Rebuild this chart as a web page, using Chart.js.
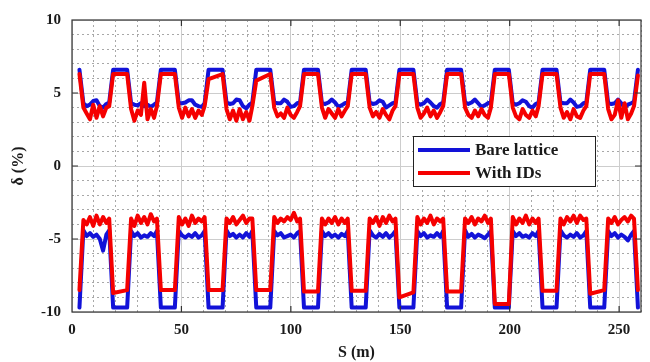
<!DOCTYPE html>
<html>
<head>
<meta charset="utf-8">
<script src="https://cdn.jsdelivr.net/npm/chart.js@4/dist/chart.umd.min.js"></script>
<style>
  html, body { margin: 0; padding: 0; background: #fff; }
  #wrap { width: 650px; height: 362px; }
</style>
</head>
<body>
<div id="wrap"><canvas id="myChart"></canvas></div>
<script>
// positions along the ring (m), shared by all four curves
const S = [3.4,
  5.2, 6.7, 8.2, 9.7, 11.2, 12.7, 14.2, 15.7, 17.0, 18.8, 25.2,
  27.0, 28.5, 30.0, 31.5, 33.0, 34.5, 36.0, 37.5, 38.8, 40.6, 47.0,
  48.8, 50.3, 51.8, 53.3, 54.8, 56.3, 57.8, 59.3, 60.6, 62.4, 68.8,
  70.6, 72.1, 73.6, 75.1, 76.6, 78.1, 79.6, 81.1, 82.4, 84.2, 90.6,
  92.4, 93.9, 95.4, 96.9, 98.4, 99.9, 101.4, 102.9, 104.2, 106.0, 112.4,
  114.2, 115.7, 117.2, 118.7, 120.2, 121.7, 123.2, 124.7, 126.0, 127.8, 134.2,
  136.0, 137.5, 139.0, 140.5, 142.0, 143.5, 145.0, 146.5, 147.8, 149.6, 156.0,
  157.8, 159.3, 160.8, 162.3, 163.8, 165.3, 166.8, 168.3, 169.6, 171.4, 177.8,
  179.6, 181.1, 182.6, 184.1, 185.6, 187.1, 188.6, 190.1, 191.4, 193.2, 199.6,
  201.4, 202.9, 204.4, 205.9, 207.4, 208.9, 210.4, 211.9, 213.2, 215.0, 221.4,
  223.2, 224.7, 226.2, 227.7, 229.2, 230.7, 232.2, 233.7, 235.0, 236.8, 243.2,
  245.0, 246.5, 248.0, 249.5, 251.0, 252.5, 254.0, 255.5, 256.8, 258.6];

// positive momentum acceptance (%)
const upperBare = [6.6,
  4.3, 4.1, 4.2, 4.45, 4.5, 4.1, 4.0, 4.25, 4.35, 6.6, 6.6,
  4.3, 4.2, 4.15, 4.3, 4.1, 4.2, 4.05, 4.2, 4.35, 6.6, 6.6,
  4.3, 4.3, 4.35, 4.5, 4.5, 4.2, 4.1, 4.05, 4.3, 6.6, 6.6,
  4.35, 4.25, 4.3, 4.55, 4.5, 4.1, 3.95, 4.2, 4.35, 6.6, 6.6,
  4.35, 4.3, 4.3, 4.55, 4.4, 4.05, 4.1, 4.3, 4.35, 6.6, 6.6,
  4.3, 4.25, 4.35, 4.55, 4.35, 4.05, 4.15, 4.3, 4.35, 6.6, 6.6,
  4.35, 4.25, 4.3, 4.5, 4.4, 4.0, 4.15, 4.3, 4.35, 6.6, 6.6,
  4.3, 4.2, 4.3, 4.55, 4.35, 4.1, 4.0, 4.25, 4.35, 6.6, 6.6,
  4.35, 4.25, 4.35, 4.55, 4.3, 4.05, 4.15, 4.3, 4.35, 6.6, 6.6,
  4.3, 4.2, 4.3, 4.5, 4.4, 4.1, 4.0, 4.25, 4.35, 6.6, 6.6,
  4.35, 4.3, 4.3, 4.55, 4.35, 4.05, 4.1, 4.3, 4.35, 6.6, 6.6,
  4.3, 4.25, 4.3, 4.55, 4.3, 4.0, 4.2, 4.3, 4.4, 6.6];

const upperIDs = [6.3,
  4.0, 3.6, 3.2, 4.2, 3.3, 4.1, 3.4, 4.0, 4.1, 6.3, 6.3,
  3.9, 3.1, 3.8, 3.5, 5.7, 3.2, 3.9, 3.3, 4.1, 6.3, 6.3,
  4.0, 3.3, 4.0, 3.4, 3.9, 3.3, 3.8, 3.5, 4.1, 5.95, 6.3,
  3.9, 3.2, 3.8, 3.1, 3.9, 3.2, 3.7, 3.1, 4.1, 5.85, 6.3,
  4.0, 3.4, 3.6, 3.3, 4.0, 3.5, 3.3, 3.7, 4.1, 6.3, 6.3,
  4.0, 3.3, 3.9, 3.6, 3.3, 3.9, 3.4, 3.8, 4.1, 6.3, 6.3,
  4.0, 3.4, 3.7, 3.3, 3.9, 3.5, 3.2, 3.8, 4.1, 6.3, 6.3,
  4.0, 3.3, 3.6, 4.0, 3.4, 3.8, 3.3, 3.7, 4.1, 6.3, 6.3,
  4.0, 3.5, 3.3, 3.8, 3.4, 3.9, 3.5, 3.3, 4.0, 6.3, 6.3,
  4.0, 3.4, 3.2, 3.9, 3.5, 3.3, 3.8, 3.4, 4.1, 6.3, 6.3,
  4.0, 3.3, 3.7, 3.2, 3.9, 3.4, 3.3, 3.8, 4.1, 6.3, 6.3,
  3.9, 3.2, 3.5, 4.5, 3.3, 4.3, 3.2, 3.6, 4.1, 6.2];

// negative momentum acceptance (%)
const lowerBare = [-9.7,
  -4.4, -4.8, -4.6, -4.85, -4.7, -5.0, -5.8, -4.7, -4.4, -9.7, -9.7,
  -4.45, -4.8, -4.6, -4.9, -4.75, -4.85, -4.6, -4.8, -4.45, -9.7, -9.7,
  -4.45, -4.75, -4.9, -4.7, -4.85, -4.6, -4.9, -4.75, -4.45, -9.7, -9.7,
  -4.4, -4.8, -4.65, -4.9, -4.7, -4.9, -4.6, -4.85, -4.45, -9.7, -9.7,
  -4.45, -4.75, -4.6, -4.9, -4.8, -4.7, -4.9, -4.6, -4.45, -9.7, -9.7,
  -4.45, -4.8, -4.6, -4.85, -4.7, -4.9, -4.65, -4.8, -4.45, -9.7, -9.7,
  -4.4, -4.75, -4.9, -4.65, -4.85, -4.6, -4.9, -4.7, -4.45, -9.7, -9.7,
  -4.45, -4.8, -4.6, -4.9, -4.75, -4.85, -4.6, -4.85, -4.45, -9.7, -9.7,
  -4.4, -4.85, -4.65, -4.9, -4.7, -4.8, -4.95, -4.7, -4.45, -9.7, -9.7,
  -4.45, -4.8, -4.6, -4.85, -4.75, -4.9, -4.6, -4.8, -4.45, -9.7, -9.7,
  -4.4, -4.75, -4.9, -4.7, -4.85, -4.6, -4.9, -4.75, -4.45, -9.7, -9.7,
  -4.45, -4.8, -4.6, -4.9, -4.7, -4.85, -5.1, -4.7, -4.45, -9.7];

const lowerIDs = [-8.5,
  -3.7, -4.0, -3.5, -4.1, -3.4, -4.0, -3.5, -3.9, -3.6, -8.7, -8.5,
  -3.6, -4.1, -3.4, -3.9, -3.5, -4.0, -3.3, -3.8, -3.6, -8.5, -8.5,
  -3.5, -4.0, -3.6, -4.1, -3.4, -3.9, -3.6, -3.8, -3.5, -8.5, -8.5,
  -3.6, -3.9, -3.5, -4.0, -3.7, -3.4, -3.9, -3.6, -3.6, -8.5, -8.5,
  -3.5, -3.9, -3.6, -3.8, -3.5, -3.7, -3.2, -3.8, -3.6, -8.6, -8.6,
  -3.6, -4.0, -3.6, -3.9, -3.5, -4.0, -3.6, -3.9, -3.6, -8.55, -8.55,
  -3.6, -3.9, -3.5, -4.1, -3.5, -3.9, -3.4, -3.8, -3.6, -9.0, -8.65,
  -3.5, -4.0, -3.6, -3.9, -3.4, -4.0, -3.6, -3.8, -3.6, -8.6, -8.6,
  -3.6, -3.9, -3.5, -4.0, -3.6, -3.8, -3.4, -3.9, -3.6, -9.45, -9.45,
  -3.5, -4.0, -3.6, -3.9, -3.4, -4.0, -3.6, -3.9, -3.6, -8.55, -8.55,
  -3.6, -4.0, -3.5, -3.8, -3.4, -3.9, -3.4, -3.7, -3.6, -8.75, -8.5,
  -3.6, -3.9, -3.5, -4.0, -3.7, -3.5, -3.8, -3.4, -3.6, -8.5];

const legendLabels = ["Bare lattice", "With IDs"];
const blue = "#1212d8";
const red = "#f50000";
const serif = "'Liberation Serif', 'DejaVu Serif', serif";

function pairUp(vals) {
  return S.map((s, i) => ({ x: s, y: vals[i] }));
}

// frame box with inward ticks at the labelled values
const framePlugin = {
  id: "frame",
  afterDatasetsDraw(chart) {
    const { ctx, chartArea: a, scales } = chart;
    ctx.save();
    ctx.strokeStyle = "#333";
    ctx.lineWidth = 1.2;
    ctx.strokeRect(a.left, a.top, a.right - a.left, a.bottom - a.top);
    ctx.beginPath();
    [50, 100, 150, 200, 250].forEach(v => {
      const px = scales.x.getPixelForValue(v);
      ctx.moveTo(px, a.bottom); ctx.lineTo(px, a.bottom - 6);
      ctx.moveTo(px, a.top); ctx.lineTo(px, a.top + 6);
    });
    [-5, 0, 5].forEach(v => {
      const py = scales.y.getPixelForValue(v);
      ctx.moveTo(a.left, py); ctx.lineTo(a.left + 6, py);
      ctx.moveTo(a.right, py); ctx.lineTo(a.right - 6, py);
    });
    ctx.stroke();
    ctx.restore();
  }
};

// boxed legend inside the plot
const boxLegend = {
  id: "boxLegend",
  afterDraw(chart) {
    const { ctx, chartArea: a } = chart;
    const x0 = a.left + 341, y0 = a.top + 116;
    ctx.save();
    ctx.fillStyle = "#fff";
    ctx.fillRect(x0, y0, 182, 50);
    ctx.strokeStyle = "#222";
    ctx.lineWidth = 1;
    ctx.strokeRect(x0 + 0.5, y0 + 0.5, 182, 50);
    ctx.font = "bold 17px " + serif;
    ctx.textBaseline = "middle";
    legendLabels.forEach((lab, i) => {
      const ds = chart.data.datasets.find(d => d.label === lab);
      const y = y0 + 14 + i * 23;
      ctx.strokeStyle = ds.borderColor;
      ctx.lineWidth = 4;
      ctx.beginPath();
      ctx.moveTo(x0 + 5, y); ctx.lineTo(x0 + 57, y);
      ctx.stroke();
      ctx.fillStyle = "#1a1a1a";
      ctx.fillText(lab, x0 + 62, y + 1);
    });
    ctx.restore();
  }
};

const ctx = document.getElementById("myChart").getContext("2d");
new Chart(ctx, {
  type: "line",
  data: {
    datasets: [
      { label: "With IDs", data: pairUp(upperIDs), borderColor: red },
      { label: "With IDs", data: pairUp(lowerIDs), borderColor: red },
      { label: "Bare lattice", data: pairUp(upperBare), borderColor: blue },
      { label: "Bare lattice", data: pairUp(lowerBare), borderColor: blue }
    ]
  },
  options: {
    responsive: true,
    maintainAspectRatio: false,
    animation: false,
    layout: { padding: { top: 17, right: 2, left: 0, bottom: 0 } },
    elements: {
      point: { radius: 0 },
      line: { borderWidth: 4, tension: 0, borderJoinStyle: "round", borderCapStyle: "round", fill: false }
    },
    plugins: { legend: { display: false }, tooltip: { enabled: false } },
    scales: {
      x: {
        type: "linear",
        min: 0,
        max: 260,
        afterFit: s => { s.height = 50; },
        ticks: {
          stepSize: 10,
          autoSkip: false,
          maxRotation: 0,
          padding: 9,
          color: "#1a1a1a",
          font: { family: serif, size: 15, weight: "bold" },
          callback: v => (v % 50 === 0 ? v : "")
        },
        grid: {
          drawTicks: false,
          lineWidth: 1,
          color: c => (c.tick && c.tick.value % 50 === 0 ? "#cdcdcd" : "#a8a8a8")
        },
        border: {
          display: false,
          dash: c => (c.tick && c.tick.value % 50 !== 0 ? [2, 3] : [])
        },
        title: {
          display: true,
          text: "S (m)",
          color: "#1a1a1a",
          font: { family: serif, size: 16, weight: "bold" },
          padding: { top: 0, bottom: 0 }
        }
      },
      y: {
        min: -10,
        max: 10,
        afterFit: s => { s.width = 72; },
        ticks: {
          stepSize: 1,
          autoSkip: false,
          padding: 11,
          color: "#1a1a1a",
          font: { family: serif, size: 15, weight: "bold" },
          callback: v => (v % 5 === 0 ? v : "")
        },
        grid: {
          drawTicks: false,
          lineWidth: 1,
          color: c => (c.tick && c.tick.value % 5 === 0 ? "#cdcdcd" : "#a8a8a8")
        },
        border: {
          display: false,
          dash: c => (c.tick && c.tick.value % 5 !== 0 ? [2, 3] : [])
        },
        title: {
          display: true,
          text: "δ (%)",
          color: "#1a1a1a",
          font: { family: serif, size: 16, weight: "bold" },
          padding: { top: 9, bottom: 0 }
        }
      }
    }
  },
  plugins: [framePlugin, boxLegend]
});
</script>
</body>
</html>
